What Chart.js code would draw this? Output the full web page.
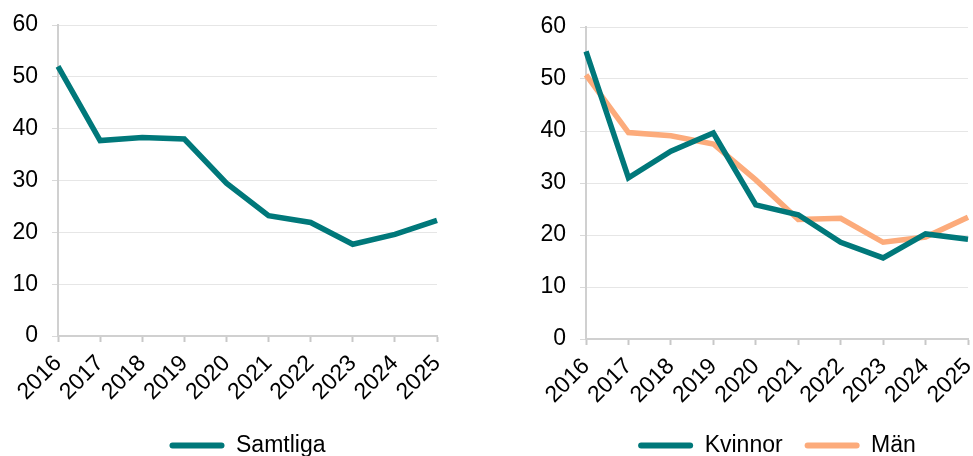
<!DOCTYPE html>
<html>
<head>
<meta charset="utf-8">
<script src="https://cdn.jsdelivr.net/npm/chart.js@4"></script>
<style>
  html, body { margin: 0; padding: 0; background: #fff; overflow: hidden; }
  #wrap { position: relative; width: 973px; height: 456px; overflow: hidden; }
  canvas { position: absolute; top: 0; }
  #left { left: 0; }
  #right { left: 490px; }
</style>
</head>
<body>
<div id="wrap">
  <canvas id="left" width="480" height="467"></canvas>
  <canvas id="right" width="483" height="467"></canvas>
</div>
<script>
const years = ['2016', '2017', '2018', '2019', '2020', '2021', '2022', '2023', '2024', '2025'];
const samtliga = [52.0, 37.7, 38.3, 38.0, 29.5, 23.2, 21.9, 17.7, 19.6, 22.3];
const kvinnor = [55.3, 31.0, 36.1, 39.6, 25.8, 23.9, 18.6, 15.6, 20.2, 19.2];
const man = [50.8, 39.7, 39.1, 37.5, 30.6, 23.0, 23.2, 18.6, 19.6, 23.4];
const yTicks = [0, 10, 20, 30, 40, 50, 60];

const TEAL = '#00787a';
const PEACH = '#fcab7b';

Chart.defaults.font.family = '"Liberation Sans", Arial, sans-serif';
Chart.defaults.font.size = 23;
Chart.defaults.color = '#000';

function line(label, data, color) {
    return {
        label: label,
        data: data,
        borderColor: color,
        backgroundColor: color,
        borderWidth: 5.5,
        fill: false,
        tension: 0,
        pointRadius: 0,
        pointHoverRadius: 0
    };
}

// pad: layout padding, yWidth / xHeight: fixed axis sizes
function makeOptions(pad, yWidth, xHeight) {
    return {
        responsive: false,
        animation: false,
        layout: { padding: pad },
        scales: {
            x: {
                afterFit: scale => {
                    scale.height = xHeight;
                    scale.paddingLeft = 0;
                    scale.paddingRight = 0;
                },
                grid: {
                    drawOnChartArea: false,
                    drawTicks: true,
                    tickLength: 6,
                    tickColor: '#c8c8c8',
                    tickWidth: 2
                },
                border: { color: '#d0d0d0', width: 2 },
                ticks: {
                    autoSkip: false,
                    minRotation: 45,
                    maxRotation: 45,
                    padding: 8
                }
            },
            y: {
                min: 0,
                max: 60,
                afterBuildTicks: axis => {
                    axis.ticks = yTicks.map(v => ({ value: v }));
                },
                afterFit: scale => {
                    scale.width = yWidth;
                    scale.paddingTop = 0;
                    scale.paddingBottom = 0;
                },
                grid: {
                    color: '#e6e6e6',
                    lineWidth: 1,
                    tickLength: 6,
                    tickColor: '#d9d9d9'
                },
                border: { color: '#d0d0d0', width: 2 },
                ticks: { padding: 14 }
            }
        },
        plugins: {
            legend: {
                position: 'bottom',
                fullSize: false,
                labels: {
                    boxWidth: 55,
                    boxHeight: 6,
                    padding: 22,
                    generateLabels: chart =>
                        Chart.defaults.plugins.legend.labels.generateLabels(chart).map(item => ({
                            ...item,
                            lineWidth: 0,
                            fillStyle: item.strokeStyle,
                            borderRadius: 3
                        }))
                }
            },
            tooltip: { enabled: false }
        }
    };
}

new Chart(document.getElementById('left'), {
    type: 'line',
    data: {
        labels: years,
        datasets: [line('Samtliga', samtliga, TEAL)]
    },
    options: makeOptions({ left: 0, right: 43, top: 25, bottom: 0 }, 58, 76)
});

new Chart(document.getElementById('right'), {
    type: 'line',
    data: {
        labels: years,
        datasets: [line('Kvinnor', kvinnor, TEAL), line('Män', man, PEACH)]
    },
    options: makeOptions({ left: 0, right: 5, top: 27, bottom: 0 }, 96, 73)
});
</script>
</body>
</html>
